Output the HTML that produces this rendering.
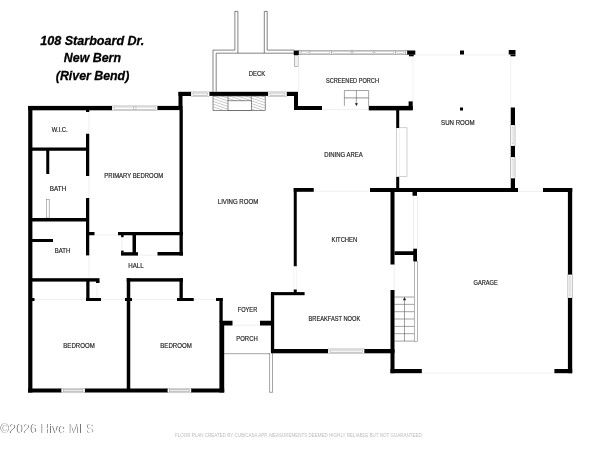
<!DOCTYPE html>
<html><head><meta charset="utf-8"><title>Floor plan</title>
<style>html,body{margin:0;padding:0;background:#fff;overflow:hidden}body{width:600px;height:450px;position:relative}</style></head>
<body>
<svg width="600" height="450" viewBox="0 0 600 450" style="position:absolute;left:0;top:0;will-change:transform">
<rect width="600" height="450" fill="#fff"/>
<polyline fill="none" stroke="#383838" stroke-width="0.62" points="213.0,91.8 213.0,50.1 234.9,50.1 234.9,11.4 237.9,11.4 237.9,53.2 216.2,53.2 216.2,91.8"/>
<polyline fill="none" stroke="#383838" stroke-width="0.62" points="264.3,53.2 264.3,11.4 267.2,11.4 267.2,50.1 294,50.1"/>
<polyline fill="none" stroke="#383838" stroke-width="0.62" points="237.9,53.2 294,53.2"/>
<rect x="298.75" y="50.4" width="108.75" height="4.200000000000003" fill="#fff" stroke="#707070" stroke-width="0.5"/>
<rect x="301.5" y="51.7" width="6.0" height="1.5999999999999943" fill="#fff" stroke="#9a9a9a" stroke-width="0.45"/>
<rect x="310" y="51.7" width="20" height="1.5999999999999943" fill="#fff" stroke="#9a9a9a" stroke-width="0.45"/>
<rect x="333" y="51.7" width="18" height="1.5999999999999943" fill="#fff" stroke="#9a9a9a" stroke-width="0.45"/>
<rect x="353" y="51.7" width="19.5" height="1.5999999999999943" fill="#fff" stroke="#9a9a9a" stroke-width="0.45"/>
<rect x="375" y="51.7" width="19" height="1.5999999999999943" fill="#fff" stroke="#9a9a9a" stroke-width="0.45"/>
<rect x="397" y="51.7" width="7" height="1.5999999999999943" fill="#fff" stroke="#9a9a9a" stroke-width="0.45"/>
<line x1="300" y1="50.5" x2="300" y2="54.5" stroke="#6a6a6a" stroke-width="0.5"/>
<line x1="309" y1="50.5" x2="309" y2="54.5" stroke="#6a6a6a" stroke-width="0.5"/>
<line x1="331.5" y1="50.5" x2="331.5" y2="54.5" stroke="#6a6a6a" stroke-width="0.5"/>
<line x1="352" y1="50.5" x2="352" y2="54.5" stroke="#6a6a6a" stroke-width="0.5"/>
<line x1="373.8" y1="50.5" x2="373.8" y2="54.5" stroke="#6a6a6a" stroke-width="0.5"/>
<line x1="395.5" y1="50.5" x2="395.5" y2="54.5" stroke="#6a6a6a" stroke-width="0.5"/>
<line x1="405.5" y1="50.5" x2="405.5" y2="54.5" stroke="#6a6a6a" stroke-width="0.5"/>
<rect x="294.3" y="55.3" width="4.0" height="11.299999999999997" fill="#efefef" stroke="#888" stroke-width="0.55"/>
<line x1="298.7" y1="55" x2="298.7" y2="92" stroke="#e9e9e9" stroke-width="0.7"/>
<line x1="413" y1="56" x2="413" y2="102" stroke="#e9e9e9" stroke-width="0.7"/>
<line x1="415" y1="55" x2="509" y2="55" stroke="#e9e9e9" stroke-width="0.7"/>
<line x1="510.8" y1="56" x2="510.8" y2="107" stroke="#e9e9e9" stroke-width="0.7"/>
<line x1="322" y1="109.6" x2="368.75" y2="109.6" stroke="#e9e9e9" stroke-width="0.7"/>
<line x1="313.75" y1="191.2" x2="370" y2="191.2" stroke="#e9e9e9" stroke-width="0.7"/>
<line x1="518" y1="191.4" x2="543" y2="191.4" stroke="#e9e9e9" stroke-width="0.7"/>
<line x1="422" y1="373.1" x2="554" y2="373.1" stroke="#e9e9e9" stroke-width="0.7"/>
<line x1="293.9" y1="266" x2="293.9" y2="291" stroke="#e8e8e8" stroke-width="0.5"/>
<line x1="296.6" y1="266" x2="296.6" y2="291" stroke="#e8e8e8" stroke-width="0.5"/>
<line x1="394.2" y1="264.5" x2="394.2" y2="290" stroke="#e9e9e9" stroke-width="0.7"/>
<line x1="89" y1="112" x2="89" y2="133.75" stroke="#e9e9e9" stroke-width="0.7"/>
<line x1="89" y1="176" x2="89" y2="198" stroke="#e9e9e9" stroke-width="0.7"/>
<line x1="89" y1="255" x2="89" y2="278" stroke="#e9e9e9" stroke-width="0.7"/>
<line x1="94.5" y1="235" x2="118" y2="235" stroke="#e9e9e9" stroke-width="0.7"/>
<line x1="34.5" y1="299.5" x2="86" y2="299.5" stroke="#e9e9e9" stroke-width="0.7"/>
<line x1="101" y1="299.5" x2="125" y2="299.5" stroke="#e9e9e9" stroke-width="0.7"/>
<line x1="132" y1="299.5" x2="177" y2="299.5" stroke="#e9e9e9" stroke-width="0.7"/>
<line x1="193.75" y1="299.5" x2="216" y2="299.5" stroke="#e9e9e9" stroke-width="0.7"/>
<line x1="97" y1="283" x2="97" y2="298" stroke="#e9e9e9" stroke-width="0.7"/>
<line x1="122" y1="235" x2="122" y2="252" stroke="#e9e9e9" stroke-width="0.7"/>
<line x1="138" y1="255.2" x2="157.5" y2="255.2" stroke="#e9e9e9" stroke-width="0.7"/>
<line x1="232.5" y1="325.2" x2="260" y2="325.2" stroke="#e9e9e9" stroke-width="0.7"/>
<line x1="224.2" y1="353.7" x2="270" y2="353.7" stroke="#666" stroke-width="0.6"/>
<line x1="269.6" y1="353" x2="269.6" y2="392.5" stroke="#666" stroke-width="0.6"/>
<line x1="272.5" y1="353" x2="272.5" y2="392.5" stroke="#666" stroke-width="0.6"/>
<line x1="269.6" y1="392.3" x2="272.5" y2="392.3" stroke="#666" stroke-width="0.6"/>
<rect x="112" y="105.9" width="45.5" height="4.3999999999999915" fill="#fff" stroke="#a0a0a0" stroke-width="0.5"/>
<rect x="114" y="107.0" width="41.5" height="2.299999999999997" fill="#fff" stroke="#9a9a9a" stroke-width="0.5"/>
<rect x="133.3" y="107" width="2.6999999999999886" height="2.200000000000003" fill="#fff" stroke="#999" stroke-width="0.45"/>
<rect x="191" y="91.9" width="18.5" height="4.3999999999999915" fill="#fff" stroke="#a0a0a0" stroke-width="0.5"/>
<rect x="193" y="93.0" width="14.5" height="2.299999999999997" fill="#f6f6f6" stroke="#9a9a9a" stroke-width="0.5"/>
<rect x="268" y="91.9" width="18.899999999999977" height="4.3999999999999915" fill="#fff" stroke="#a0a0a0" stroke-width="0.5"/>
<rect x="270" y="93.0" width="14.899999999999977" height="2.299999999999997" fill="#f6f6f6" stroke="#9a9a9a" stroke-width="0.5"/>
<rect x="328" y="348.9" width="36.39999999999998" height="4.7000000000000455" fill="#fff" stroke="#a0a0a0" stroke-width="0.5"/>
<rect x="330" y="350.0" width="32.39999999999998" height="2.6000000000000227" fill="#f4f4f4" stroke="#9a9a9a" stroke-width="0.5"/>
<rect x="61.25" y="388.4" width="23.75" height="4.400000000000034" fill="#fff" stroke="#a0a0a0" stroke-width="0.5"/>
<rect x="63.25" y="389.5" width="19.75" height="2.3000000000000114" fill="#e8e8e8" stroke="#9a9a9a" stroke-width="0.5"/>
<rect x="167.5" y="388.4" width="23.75" height="4.400000000000034" fill="#fff" stroke="#a0a0a0" stroke-width="0.5"/>
<rect x="169.5" y="389.5" width="19.75" height="2.3000000000000114" fill="#e8e8e8" stroke="#9a9a9a" stroke-width="0.5"/>
<rect x="510.75" y="125" width="4.25" height="21" fill="#fff" stroke="#858585" stroke-width="0.5"/>
<rect x="512.05" y="127" width="1.650000000000091" height="17" fill="#fafafa" stroke="#c4c4c4" stroke-width="0.4"/>
<rect x="510.75" y="157" width="4.25" height="21.400000000000006" fill="#fff" stroke="#858585" stroke-width="0.5"/>
<rect x="512.05" y="159" width="1.650000000000091" height="17.400000000000006" fill="#fafafa" stroke="#c4c4c4" stroke-width="0.4"/>
<rect x="567.9" y="274.5" width="4.300000000000068" height="23.5" fill="#fff" stroke="#858585" stroke-width="0.5"/>
<rect x="569.1999999999999" y="276.5" width="1.7000000000001592" height="19.5" fill="#f6f6f6" stroke="#c4c4c4" stroke-width="0.4"/>
<rect x="396.5" y="127.8" width="10.5" height="48.7" fill="#fff" stroke="#a0a0a0" stroke-width="0.5"/>
<line x1="399.5" y1="127.8" x2="399.5" y2="176.5" stroke="#e4e4e4" stroke-width="0.5"/>
<rect x="413.6" y="195.75" width="3.599999999999966" height="53.0" fill="#fff" stroke="#dcdcdc" stroke-width="0.5"/>
<rect x="46.4" y="199.5" width="2.8000000000000043" height="18.5" fill="#fff" stroke="#888" stroke-width="0.6"/>
<line x1="394.5" y1="297" x2="414.25" y2="297" stroke="#555" stroke-width="0.55"/>
<line x1="394.5" y1="304.35" x2="414.25" y2="304.35" stroke="#555" stroke-width="0.55"/>
<line x1="394.5" y1="311.7" x2="414.25" y2="311.7" stroke="#555" stroke-width="0.55"/>
<line x1="394.5" y1="319.0" x2="414.25" y2="319.0" stroke="#555" stroke-width="0.55"/>
<line x1="394.5" y1="326.4" x2="414.25" y2="326.4" stroke="#555" stroke-width="0.55"/>
<line x1="394.5" y1="333.7" x2="414.25" y2="333.7" stroke="#555" stroke-width="0.55"/>
<line x1="394.5" y1="341.1" x2="414.25" y2="341.1" stroke="#555" stroke-width="0.55"/>
<line x1="404.5" y1="298" x2="404.5" y2="341.1" stroke="#555" stroke-width="0.55"/>
<path d="M402.9 300.2 L406.1 300.2 L404.5 296.9Z" fill="#222"/>
<rect x="414.25" y="261.25" width="3.1499999999999773" height="80.05000000000001" fill="#fff" stroke="#666" stroke-width="0.5"/>
<polyline fill="none" stroke="#5a5a5a" stroke-width="0.55" points="344.4,105.8 344.4,90.5 368.6,90.5 368.6,105.8"/>
<line x1="344.4" y1="97.9" x2="368.6" y2="97.9" stroke="#4a4a4a" stroke-width="0.6"/>
<line x1="356.4" y1="90.5" x2="356.4" y2="104" stroke="#5a5a5a" stroke-width="0.55"/>
<path d="M354.8 103.2 L358 103.2 L356.4 105.9Z" fill="#222"/>
<defs><pattern id="h" width="2.6" height="2.6" patternUnits="userSpaceOnUse" patternTransform="rotate(19)"><line x1="0" y1="0" x2="2.6" y2="0" stroke="#555" stroke-width="0.6"/></pattern></defs>
<rect x="213" y="96" width="52.2" height="14.3" fill="url(#h)" stroke="#444" stroke-width="0.6"/>
<rect x="228" y="100.8" width="23.3" height="9.5" fill="#fff" stroke="#444" stroke-width="0.6"/>
<line x1="228" y1="96" x2="228" y2="100.8" stroke="#444" stroke-width="0.6"/>
<line x1="251.3" y1="96" x2="251.3" y2="100.8" stroke="#444" stroke-width="0.6"/>
<rect x="28.2" y="106" width="4.2" height="286.5" fill="#000"/>
<rect x="28.2" y="105.9" width="83.8" height="4.4" fill="#000"/>
<rect x="157.5" y="105.9" width="25.0" height="4.2" fill="#000"/>
<rect x="178.5" y="92" width="4.0" height="18" fill="#000"/>
<rect x="179.5" y="110" width="3.3" height="145.5" fill="#000"/>
<rect x="178.5" y="91.8" width="12.5" height="4.2" fill="#000"/>
<rect x="209.5" y="91.8" width="58.5" height="4.1" fill="#000"/>
<rect x="286.9" y="91.8" width="11.1" height="4.2" fill="#000"/>
<rect x="294" y="92" width="4" height="18" fill="#000"/>
<rect x="294" y="106" width="28" height="4" fill="#000"/>
<rect x="368.75" y="105.9" width="43.95" height="4.5" fill="#000"/>
<rect x="408.6" y="101.4" width="4.1" height="8.6" fill="#000"/>
<rect x="396.2" y="110" width="3.0" height="18" fill="#000"/>
<rect x="396.2" y="177" width="3.0" height="11" fill="#000"/>
<rect x="293.75" y="188" width="20.0" height="3.8" fill="#000"/>
<rect x="370" y="188" width="148" height="4" fill="#000"/>
<rect x="543" y="188" width="29.2" height="4" fill="#000"/>
<rect x="293.75" y="188" width="3.0" height="78.25" fill="#000"/>
<rect x="271" y="292.1" width="33.6" height="3.1" fill="#000"/>
<rect x="293.75" y="289.5" width="3.0" height="3.5" fill="#000"/>
<rect x="270.9" y="292.5" width="3.3" height="60.0" fill="#000"/>
<rect x="271" y="349" width="57" height="4.3" fill="#000"/>
<rect x="364.4" y="349" width="30.1" height="4.3" fill="#000"/>
<rect x="390.5" y="191" width="4.0" height="73.5" fill="#000"/>
<rect x="390.5" y="290" width="4.0" height="83.2" fill="#000"/>
<rect x="390.5" y="369" width="31.3" height="4.2" fill="#000"/>
<rect x="554.4" y="369" width="17.8" height="4.2" fill="#000"/>
<rect x="567.9" y="188" width="4.3" height="86.5" fill="#000"/>
<rect x="567.9" y="298" width="4.3" height="75.2" fill="#000"/>
<rect x="510.75" y="107.5" width="4.25" height="17.5" fill="#000"/>
<rect x="510.75" y="146" width="4.25" height="11" fill="#000"/>
<rect x="510.75" y="178.4" width="4.25" height="13.6" fill="#000"/>
<rect x="394.5" y="251.25" width="22.5" height="3.75" fill="#000"/>
<rect x="413.25" y="248.75" width="3.75" height="12.5" fill="#000"/>
<rect x="412.5" y="191" width="4.5" height="4.75" fill="#000"/>
<rect x="222" y="320.75" width="10.5" height="4.75" fill="#000"/>
<rect x="260" y="320.75" width="12.5" height="4.75" fill="#000"/>
<rect x="219.4" y="298" width="3.3" height="24" fill="#000"/>
<rect x="219.4" y="321" width="4.8" height="71.5" fill="#000"/>
<rect x="216" y="298" width="6.7" height="3" fill="#000"/>
<rect x="28" y="388.5" width="33.25" height="4.0" fill="#000"/>
<rect x="85" y="388.5" width="82.5" height="4.0" fill="#000"/>
<rect x="191.25" y="388.5" width="32.95" height="4.0" fill="#000"/>
<rect x="86" y="110" width="3.25" height="2" fill="#000"/>
<rect x="86" y="133.75" width="3.25" height="42.25" fill="#000"/>
<rect x="86" y="198" width="3.25" height="57.4" fill="#000"/>
<rect x="32" y="147.5" width="57" height="3.25" fill="#000"/>
<rect x="46.25" y="150" width="3.0" height="24" fill="#000"/>
<rect x="32" y="218" width="57" height="3.5" fill="#000"/>
<rect x="89" y="232" width="5.5" height="3.25" fill="#000"/>
<rect x="32" y="239" width="21" height="3" fill="#000"/>
<rect x="118" y="232" width="65" height="3.25" fill="#000"/>
<rect x="132.5" y="235" width="3.5" height="20" fill="#000"/>
<rect x="121" y="252.2" width="17" height="3.4" fill="#000"/>
<rect x="121.1" y="235" width="2.5" height="2.2" fill="#000"/>
<rect x="121.1" y="250.6" width="2.5" height="1.9" fill="#000"/>
<rect x="157.5" y="252" width="25.5" height="3.5" fill="#000"/>
<rect x="32" y="278.2" width="67.5" height="3.4" fill="#000"/>
<rect x="126.75" y="278.2" width="56.25" height="3.4" fill="#000"/>
<rect x="86.25" y="281" width="3.25" height="19.5" fill="#000"/>
<rect x="86" y="298" width="15" height="3" fill="#000"/>
<rect x="96" y="281" width="3.5" height="2" fill="#000"/>
<rect x="32" y="298" width="2.5" height="3" fill="#000"/>
<rect x="126.75" y="278.2" width="3.5" height="113.8" fill="#000"/>
<rect x="125" y="298" width="7" height="3" fill="#000"/>
<rect x="179.5" y="278.2" width="3.3" height="22.3" fill="#000"/>
<rect x="177" y="298" width="16.75" height="3" fill="#000"/>
<rect x="293.75" y="50.5" width="5.0" height="4.5" fill="#000"/>
<rect x="407.2" y="50.5" width="8.1" height="4.2" fill="#000"/>
<rect x="409" y="54.5" width="4.75" height="1.8" fill="#000"/>
<rect x="460" y="50.5" width="4" height="4.0" fill="#000"/>
<rect x="508.75" y="50" width="6.75" height="4.5" fill="#000"/>
<rect x="510.5" y="54.5" width="5.0" height="1.8" fill="#000"/>
<rect x="460" y="107.5" width="3" height="3.0" fill="#000"/>
<text x="51.8" y="132.30" font-family="Liberation Sans, sans-serif" font-size="6.8" fill="#222222" stroke="#222222" stroke-width="0.18" textLength="15.900000000000006" lengthAdjust="spacingAndGlyphs">W.I.C.</text>
<text x="49.8" y="191.30" font-family="Liberation Sans, sans-serif" font-size="6.8" fill="#222222" stroke="#222222" stroke-width="0.18" textLength="16.400000000000006" lengthAdjust="spacingAndGlyphs">BATH</text>
<text x="54.8" y="253.15" font-family="Liberation Sans, sans-serif" font-size="6.8" fill="#222222" stroke="#222222" stroke-width="0.18" textLength="15.400000000000006" lengthAdjust="spacingAndGlyphs">BATH</text>
<text x="128.3" y="268.30" font-family="Liberation Sans, sans-serif" font-size="6.8" fill="#222222" stroke="#222222" stroke-width="0.18" textLength="15.399999999999977" lengthAdjust="spacingAndGlyphs">HALL</text>
<text x="104.3" y="178.30" font-family="Liberation Sans, sans-serif" font-size="6.8" fill="#222222" stroke="#222222" stroke-width="0.18" textLength="58.89999999999999" lengthAdjust="spacingAndGlyphs">PRIMARY BEDROOM</text>
<text x="63.3" y="347.95" font-family="Liberation Sans, sans-serif" font-size="6.8" fill="#222222" stroke="#222222" stroke-width="0.18" textLength="31.400000000000006" lengthAdjust="spacingAndGlyphs">BEDROOM</text>
<text x="160.3" y="347.95" font-family="Liberation Sans, sans-serif" font-size="6.8" fill="#222222" stroke="#222222" stroke-width="0.18" textLength="31.399999999999977" lengthAdjust="spacingAndGlyphs">BEDROOM</text>
<text x="217.8" y="204.20" font-family="Liberation Sans, sans-serif" font-size="6.8" fill="#222222" stroke="#222222" stroke-width="0.18" textLength="40.39999999999998" lengthAdjust="spacingAndGlyphs">LIVING ROOM</text>
<text x="248.8" y="76.00" font-family="Liberation Sans, sans-serif" font-size="6.8" fill="#222222" stroke="#222222" stroke-width="0.18" textLength="16.399999999999977" lengthAdjust="spacingAndGlyphs">DECK</text>
<text x="326.05" y="83.45" font-family="Liberation Sans, sans-serif" font-size="6.8" fill="#222222" stroke="#222222" stroke-width="0.18" textLength="52.89999999999998" lengthAdjust="spacingAndGlyphs">SCREENED PORCH</text>
<text x="324.3" y="157.05" font-family="Liberation Sans, sans-serif" font-size="6.8" fill="#222222" stroke="#222222" stroke-width="0.18" textLength="38.39999999999998" lengthAdjust="spacingAndGlyphs">DINING AREA</text>
<text x="331.55" y="242.30" font-family="Liberation Sans, sans-serif" font-size="6.8" fill="#222222" stroke="#222222" stroke-width="0.18" textLength="25.649999999999977" lengthAdjust="spacingAndGlyphs">KITCHEN</text>
<text x="308.55" y="320.95" font-family="Liberation Sans, sans-serif" font-size="6.8" fill="#222222" stroke="#222222" stroke-width="0.18" textLength="51.64999999999998" lengthAdjust="spacingAndGlyphs">BREAKFAST NOOK</text>
<text x="441.05" y="125.20" font-family="Liberation Sans, sans-serif" font-size="6.8" fill="#222222" stroke="#222222" stroke-width="0.18" textLength="33.64999999999998" lengthAdjust="spacingAndGlyphs">SUN ROOM</text>
<text x="473.55" y="285.20" font-family="Liberation Sans, sans-serif" font-size="6.8" fill="#222222" stroke="#222222" stroke-width="0.18" textLength="24.149999999999977" lengthAdjust="spacingAndGlyphs">GARAGE</text>
<text x="237.8" y="312.20" font-family="Liberation Sans, sans-serif" font-size="6.8" fill="#222222" stroke="#222222" stroke-width="0.18" textLength="19.399999999999977" lengthAdjust="spacingAndGlyphs">FOYER</text>
<text x="236.3" y="341.30" font-family="Liberation Sans, sans-serif" font-size="6.8" fill="#222222" stroke="#222222" stroke-width="0.18" textLength="21.399999999999977" lengthAdjust="spacingAndGlyphs">PORCH</text>
<text x="40.3" y="44.8" font-family="Liberation Sans, sans-serif" font-size="13.3" font-weight="bold" font-style="italic" fill="#000" stroke="#000" stroke-width="0.3" textLength="104.00000000000001" lengthAdjust="spacingAndGlyphs">108 Starboard Dr.</text>
<text x="63.8" y="62.1" font-family="Liberation Sans, sans-serif" font-size="13.3" font-weight="bold" font-style="italic" fill="#000" stroke="#000" stroke-width="0.3" textLength="57.2" lengthAdjust="spacingAndGlyphs">New Bern</text>
<text x="55.8" y="79.8" font-family="Liberation Sans, sans-serif" font-size="13.3" font-weight="bold" font-style="italic" fill="#000" stroke="#000" stroke-width="0.3" textLength="73.50000000000001" lengthAdjust="spacingAndGlyphs">(River Bend)</text>
<text x="175" y="437.1" font-family="Liberation Sans, sans-serif" font-size="4.6" fill="#bcbcbc" textLength="248" lengthAdjust="spacingAndGlyphs">FLOOR PLAN CREATED BY CUBICASA APP. MEASUREMENTS DEEMED HIGHLY RELIABLE BUT NOT GUARANTEED.</text>
<text x="0.2" y="433.4" font-family="Liberation Sans, sans-serif" font-size="12" fill="#747474" textLength="94" lengthAdjust="spacingAndGlyphs">©2026 Hive MLS</text>
<text x="1.1" y="433.4" font-family="Liberation Sans, sans-serif" font-size="12" fill="#ffffff" textLength="94" lengthAdjust="spacingAndGlyphs" aria-hidden="true">©2026 Hive MLS</text>
</svg>
</body></html>
